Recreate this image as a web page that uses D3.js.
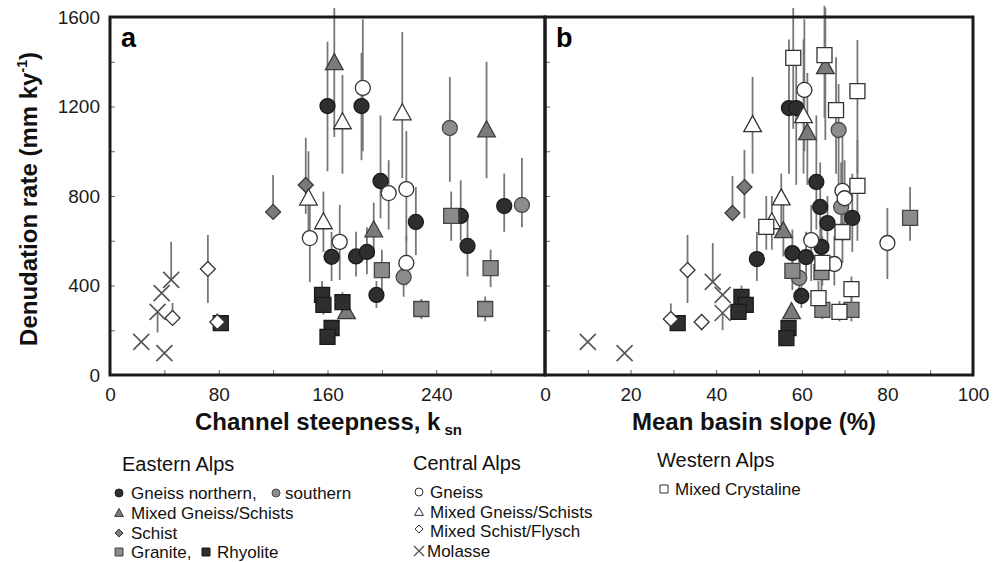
<!DOCTYPE html>
<html lang="en">
<head>
<meta charset="utf-8" />
<title>Denudation rate vs channel steepness and basin slope</title>
<script src="https://cdn.jsdelivr.net/npm/d3@7"></script>
<style>
    body { margin: 0; background: #fff; }
    svg { font-family: "Liberation Sans", Arial, sans-serif; }
    .tick line { stroke: #666; }
    .tick text { font-size: 19px; fill: #1a1a1a; }
</style>
</head>
<body>
<svg width="1001" height="562"></svg>
<script>
// rows: [lithology, x value, denudation rate, error low, error high]
var ksnPoints = [
    ["EN", 160, 1202, 910, 1490], ["EN", 185, 1202, 960, 1440], ["EN", 199, 867, 700, 1160],
    ["EN", 163, 528, 420, 640], ["EN", 181, 530, 440, 640], ["EN", 189, 550, 450, 660],
    ["EN", 196, 358, 300, 420], ["EN", 225, 684, 536, 840], ["EN", 258, 711, 600, 870],
    ["EN", 263, 577, 440, 720], ["EN", 290, 755, 640, 900],
    ["ES", 250, 1104, 863, 1332], ["ES", 216, 438, 350, 530], ["ES", 303, 760, 660, 970],
    ["EM", 165, 1395, 1064, 1640], ["EM", 194, 648, 528, 770], ["EM", 174, 282, 250, 320], ["EM", 277, 1095, 880, 1400],
    ["ESc", 120, 729, 729, 894], ["ESc", 144, 849, 720, 1060],
    ["EG", 200, 469, 380, 560], ["EG", 229, 295, 250, 340], ["EG", 251, 711, 600, 820],
    ["EG", 280, 478, 393, 560], ["EG", 276, 295, 240, 350],
    ["ER", 156, 358, 300, 420], ["ER", 157, 313, 270, 360], ["ER", 171, 326, 280, 370],
    ["ER", 163, 210, 180, 245], ["ER", 160, 170, 150, 200], ["ER", 81.5, 232, 200, 265],
    ["CG", 186, 1283, 1000, 1590], ["CG", 147, 612, 415, 760], ["CG", 169, 595, 425, 760],
    ["CG", 218, 831, 600, 1090], ["CG", 205, 813, 650, 960], ["CG", 218, 501, 400, 620],
    ["CM", 171, 1131, 900, 1341], ["CM", 215, 1171, 880, 1533], ["CM", 146, 790, 640, 1000], ["CM", 157, 684, 550, 820],
    ["CF", 72, 474, 322, 626], ["CF", 46, 255, 255, 322], ["CF", 79, 237, 200, 275],
    ["CMo", 23, 148, null, null], ["CMo", 40, 98, null, null], ["CMo", 35, 282, 190, 282],
    ["CMo", 38, 366, null, null], ["CMo", 45, 425, 425, 595]
];

var slopePoints = [
    ["EN", 57, 1193, 900, 1500], ["EN", 58.7, 1193, 850, 1440], ["EN", 63.4, 863, 650, 1160],
    ["EN", 64.3, 751, 600, 950], ["EN", 71.8, 702, 550, 900], ["EN", 66, 679, 550, 800],
    ["EN", 64.6, 572, 450, 700], ["EN", 57.8, 545, 420, 650], ["EN", 61, 527, 430, 640],
    ["EN", 59.9, 353, 300, 420], ["EN", 49.5, 518, 420, 640],
    ["ES", 68.6, 1095, 850, 1300], ["ES", 69.2, 751, 650, 950], ["ES", 59.4, 434, 350, 520],
    ["EM", 65.5, 1377, 1050, 1640], ["EM", 61.3, 1082, 850, 1350], ["EM", 55.7, 644, 530, 770], ["EM", 57.6, 282, 250, 320],
    ["ESc", 43.8, 724, 724, 890], ["ESc", 46.6, 840, 700, 1006],
    ["EG", 57.8, 465, 380, 560], ["EG", 64.8, 291, 250, 340], ["EG", 71.6, 291, 240, 350],
    ["EG", 85.3, 702, 600, 840], ["EG", 64.6, 460, 380, 540],
    ["ER", 56.9, 210, 180, 240], ["ER", 56.4, 165, 140, 200], ["ER", 45.9, 349, 300, 400],
    ["ER", 46.9, 313, 270, 360], ["ER", 45.2, 282, 250, 320], ["ER", 31, 232, 200, 265],
    ["CG", 60.6, 1274, 1000, 1590], ["CG", 69.5, 823, 600, 1090], ["CG", 62.2, 603, 420, 760],
    ["CG", 67.6, 496, 400, 620], ["CG", 80, 590, 429, 747], ["CG", 70, 790, 650, 960],
    ["CM", 48.5, 1118, 900, 1332], ["CM", 60.4, 1158, 900, 1500], ["CM", 55.2, 791, 650, 900], ["CM", 53, 684, 560, 800],
    ["CF", 33.3, 469, 322, 626], ["CF", 29.4, 250, 250, 320], ["CF", 36.6, 237, 200, 270],
    ["CMo", 10, 148, null, null], ["CMo", 18.6, 98, null, null], ["CMo", 39.2, 416, 416, 590],
    ["CMo", 41.5, 358, null, null], ["CMo", 41.5, 277, 200, 277],
    ["WM", 58, 1417, 1100, 1640], ["WM", 65.3, 1430, 1150, 1650], ["WM", 73, 1269, 900, 1497],
    ["WM", 68, 1184, 900, 1420], ["WM", 73, 845, 600, 1050], ["WM", 51.7, 662, 560, 800],
    ["WM", 69.5, 639, 500, 800], ["WM", 64.8, 501, 400, 620], ["WM", 63.9, 344, 300, 420],
    ["WM", 68.8, 282, 240, 330], ["WM", 71.6, 384, 330, 440]
];

var ksnTicks = [0, 80, 160, 240];
var slopeTicks = [0, 20, 40, 60, 80, 100];
var rateTicks = [0, 400, 800, 1200, 1600];

// marker look for each lithology
var styles = {
    EN:  { shape: "circle",   fill: "#2e2e2e", stroke: "#1a1a1a" },
    ES:  { shape: "circle",   fill: "#8c8c8c", stroke: "#4a4a4a" },
    EM:  { shape: "triangle", fill: "#7b7b7b", stroke: "#3a3a3a" },
    ESc: { shape: "diamond",  fill: "#7a7a7a", stroke: "#3a3a3a" },
    EG:  { shape: "square",   fill: "#8a8a8a", stroke: "#444" },
    ER:  { shape: "square",   fill: "#2e2e2e", stroke: "#1a1a1a" },
    CG:  { shape: "circle",   fill: "#fff",    stroke: "#333" },
    CM:  { shape: "triangle", fill: "#fff",    stroke: "#333" },
    CF:  { shape: "diamond",  fill: "#fff",    stroke: "#333" },
    CMo: { shape: "x",        fill: "none",    stroke: "#555" },
    WM:  { shape: "square",   fill: "#fff",    stroke: "#333" }
};

function shapePath(shape, s) {
    if (shape == "circle") {
        var p = d3.path(); p.arc(0, 0, s, 0, 2 * Math.PI); return p.toString();
    }
    if (shape == "square") return "M" + -s + "," + -s + "H" + s + "V" + s + "H" + -s + "Z";
    if (shape == "triangle") return "M0," + (-1.15 * s) + "L" + (1.1 * s) + "," + (0.85 * s) + "H" + (-1.1 * s) + "Z";
    if (shape == "diamond") return "M0," + -s + "L" + s + ",0L0," + s + "L" + -s + ",0Z";
    return "M" + -s + "," + -s + "L" + s + "," + s + "M" + -s + "," + s + "L" + s + "," + -s;
}

var svg = d3.select("svg");
svg.append("rect").attr("width", 1001).attr("height", 562).attr("fill", "#fff");

var y = d3.scaleLinear().domain([0, 1600]).range([375, 17]);
var xa = d3.scaleLinear().domain([0, 320]).range([110, 545]);
var xb = d3.scaleLinear().domain([0, 100]).range([545, 973]);

// axes (ticks point inwards)
svg.append("g").attr("transform", "translate(0,375)")
    .call(d3.axisBottom(xa).tickValues(d3.range(0, 320, 40)).tickSize(-5).tickPadding(13)
        .tickFormat(function (d) { return ksnTicks.indexOf(d) >= 0 ? d : ""; }))
    .call(function (g) { g.select(".domain").remove(); });

svg.append("g").attr("transform", "translate(0,375)")
    .call(d3.axisBottom(xb).tickValues(d3.range(0, 101, 10)).tickSize(-5).tickPadding(13)
        .tickFormat(function (d) { return slopeTicks.indexOf(d) >= 0 ? d : ""; }))
    .call(function (g) { g.select(".domain").remove(); });

svg.append("g").attr("transform", "translate(110,0)")
    .call(d3.axisLeft(y).tickValues(d3.range(0, 1601, 200)).tickSize(-5).tickPadding(10)
        .tickFormat(function (d) { return rateTicks.indexOf(d) >= 0 ? d : ""; }))
    .call(function (g) { g.select(".domain").remove(); });

svg.append("g").attr("transform", "translate(545,0)")
    .call(d3.axisLeft(y).tickValues(d3.range(200, 1600, 200)).tickSize(-5).tickFormat(""))
    .call(function (g) { g.select(".domain").remove(); });

function drawPanel(data, x) {
    var g = svg.append("g");
    g.selectAll("line.err")
        .data(data.filter(function (d) { return d[3] != null; }))
        .enter().append("line")
            .attr("class", "err")
            .attr("x1", function (d) { return x(d[1]); })
            .attr("x2", function (d) { return x(d[1]); })
            .attr("y1", function (d) { return y(d[3]); })
            .attr("y2", function (d) { return y(d[4]); })
            .attr("stroke", "#777")
            .attr("stroke-width", 1.8);

    g.selectAll("path.pt")
        .data(data)
        .enter().append("path")
            .attr("class", "pt")
            .attr("transform", function (d) { return "translate(" + x(d[1]) + "," + y(d[2]) + ")"; })
            .attr("d", function (d) {
                var st = styles[d[0]];
                var s = st.shape == "triangle" || st.shape == "x" ? 8 : 7.5;
                return shapePath(st.shape, s);
            })
            .attr("fill", function (d) { return styles[d[0]].fill; })
            .attr("stroke", function (d) { return styles[d[0]].stroke; })
            .attr("stroke-width", function (d) { return d[0] == "CMo" ? 1.6 : 1.3; });
}
drawPanel(ksnPoints, xa);
drawPanel(slopePoints, xb);

// frames
svg.append("rect").attr("x", 110).attr("y", 17).attr("width", 435).attr("height", 358)
    .attr("fill", "none").attr("stroke", "#1a1a1a").attr("stroke-width", 3);
svg.append("rect").attr("x", 545).attr("y", 17).attr("width", 428).attr("height", 358)
    .attr("fill", "none").attr("stroke", "#1a1a1a").attr("stroke-width", 3);

svg.append("text").attr("x", 121).attr("y", 47).attr("font-size", 27).attr("font-weight", "bold").text("a");
svg.append("text").attr("x", 556).attr("y", 47).attr("font-size", 27).attr("font-weight", "bold").text("b");

// axis titles
var yt = svg.append("text")
    .attr("transform", "translate(37,199) rotate(-90)")
    .attr("text-anchor", "middle").attr("font-size", 24).attr("font-weight", "bold").attr("fill", "#111");
yt.append("tspan").text("Denudation rate (mm ky");
yt.append("tspan").attr("font-size", 14).attr("dy", -10).text("-1");
yt.append("tspan").attr("dy", 10).text(")");

var xt = svg.append("text").attr("x", 195).attr("y", 430)
    .attr("font-size", 24).attr("font-weight", "bold").attr("fill", "#111");
xt.append("tspan").text("Channel steepness, k");
xt.append("tspan").attr("font-size", 15).attr("dx", 4).attr("dy", 5).text("sn");

svg.append("text").attr("x", 632).attr("y", 430)
    .attr("font-size", 24).attr("font-weight", "bold").attr("fill", "#111")
    .text("Mean basin slope (%)");

// legend
function legendMark(type, cx, cy) {
    var st = styles[type];
    svg.append("path")
        .attr("transform", "translate(" + cx + "," + cy + ")")
        .attr("d", shapePath(st.shape, st.shape == "x" ? 5 : 4))
        .attr("fill", st.fill).attr("stroke", st.stroke)
        .attr("stroke-width", st.shape == "x" ? 1.4 : 1);
}
function legendText(txt, tx, ty) {
    svg.append("text").attr("x", tx).attr("y", ty).attr("font-size", 17).attr("fill", "#111").text(txt);
}
function legendTitle(txt, tx, ty) {
    svg.append("text").attr("x", tx).attr("y", ty).attr("font-size", 20).attr("fill", "#111").text(txt);
}

legendTitle("Eastern Alps", 122, 471);
legendMark("EN", 119, 493); legendText("Gneiss northern,", 131, 499);
legendMark("ES", 276, 493); legendText("southern", 285, 499);
legendMark("EM", 119, 513); legendText("Mixed Gneiss/Schists", 131, 519);
legendMark("ESc", 119, 533); legendText("Schist", 131, 539);
legendMark("EG", 119, 552); legendText("Granite,", 131, 558);
legendMark("ER", 206, 552); legendText("Rhyolite", 217, 558);

legendTitle("Central Alps", 413, 470);
legendMark("CG", 419, 492); legendText("Gneiss", 430, 498);
legendMark("CM", 419, 512); legendText("Mixed Gneiss/Schists", 430, 518);
legendMark("CF", 419, 529); legendText("Mixed Schist/Flysch", 430, 537);
legendMark("CMo", 419, 551); legendText("Molasse", 427, 557);

legendTitle("Western Alps", 657, 467);
legendMark("WM", 664, 489); legendText("Mixed Crystaline", 675, 495);
</script>
</body>
</html>
